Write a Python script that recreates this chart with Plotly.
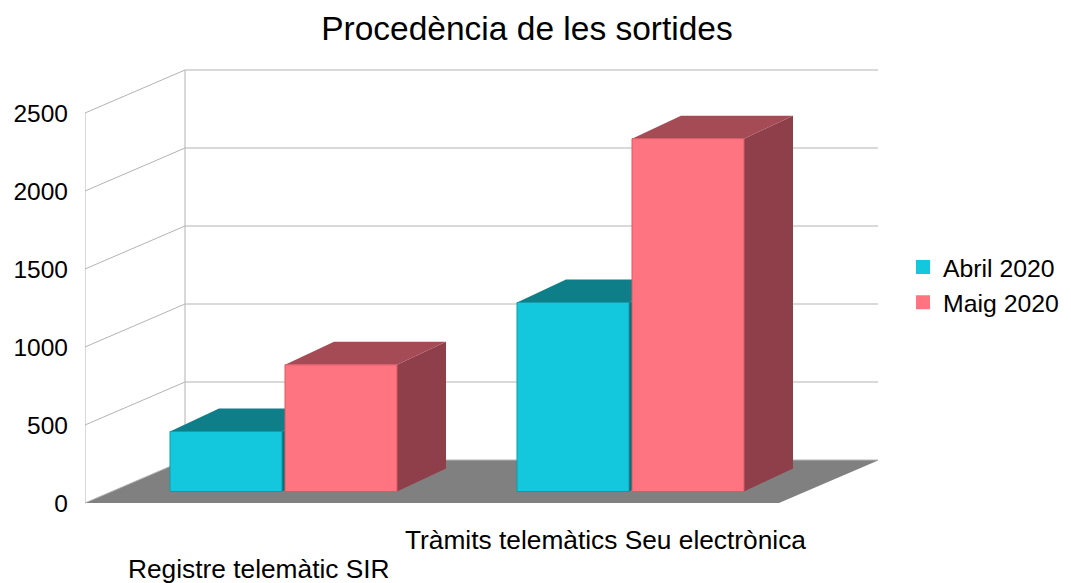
import plotly.graph_objects as go

# ---- data ----
categories = ["Registre telemàtic SIR", "Tràmits telemàtics Seu electrònica"]
series_names = ["Abril 2020", "Maig 2020"]
abril_2020 = [385, 1212]
maig_2020 = [812, 2262]
y_ticks = [0, 500, 1000, 1500, 2000, 2500]

# ---- style / projection constants (page pixel coordinates) ----
FONT = "Liberation Sans, Arial, sans-serif"
OFF = 8                      # browser body margin
PX = 390 / 2500.0            # pixels per value unit on the y axis
PLOT_L, PLOT_R, PLOT_T, PLOT_B = 85, 878, 60, 510
Y0_PIX = 503                 # pixel row of value 0 at the front plane
WALL_DX, WALL_DY = 100, 43   # oblique depth vector of walls (px)
BAR_OFF_DX, BAR_OFF_DY = 25, 11.5   # bar front plane offset (px)
BAR_DX, BAR_DY = 49, 23      # bar depth (px)
BAR_W, BAR_GAP = 112, 3
FRONT_W = 694                # front plane width (px)

front_cols = ["#13c8dc", "#ff7480"]
top_cols = ["#0e7f89", "#a44b56"]
side_cols = ["#0b6c75", "#8e3f49"]
edge_cols = ["#0e9aa8", "#d85a66"]
grid_col = "#b3b3b3"
floor_col = "#808080"

W, H = 1071 - OFF, 583 - OFF
y_lo = -(PLOT_B - Y0_PIX) / PX
y_hi = (Y0_PIX - PLOT_T) / PX


def du(px):  # pixel height -> value units
    return px / PX


fig = go.Figure()


def poly(xs, ys, fill, line_col=None, lw=0):
    fig.add_trace(go.Scatter(
        x=list(xs) + [xs[0]], y=list(ys) + [ys[0]], mode="lines", fill="toself",
        fillcolor=fill, line=dict(color=line_col or fill, width=lw),
        hoverinfo="skip", showlegend=False))


def line(xs, ys, col=grid_col, w=1):
    fig.add_trace(go.Scatter(x=xs, y=ys, mode="lines", line=dict(color=col, width=w),
                             hoverinfo="skip", showlegend=False))


x_front_l = PLOT_L
x_front_r = PLOT_L + FRONT_W
top_v = y_ticks[-1]

# floor
poly([x_front_l, x_front_r, x_front_r + WALL_DX, x_front_l + WALL_DX],
     [0, 0, du(WALL_DY), du(WALL_DY)], floor_col)

# walls: grid lines
for v in y_ticks:
    line([x_front_l, x_front_l + WALL_DX, x_front_r + WALL_DX],
         [v, v + du(WALL_DY), v + du(WALL_DY)])
line([x_front_l, x_front_l], [0, top_v])
line([x_front_l + WALL_DX] * 2, [du(WALL_DY), top_v + du(WALL_DY)])
line([x_front_r + WALL_DX] * 2, [du(WALL_DY), top_v + du(WALL_DY)])

# bars (fake 3D)
series = [abril_2020, maig_2020]
base = du(BAR_OFF_DY)
for ci, cat in enumerate(categories):
    center = PLOT_L + (ci + 0.5) * FRONT_W / len(categories) + BAR_OFF_DX
    for si, vals in enumerate(series):
        v = vals[ci]
        if si == 0:
            x0 = center - BAR_GAP / 2 - BAR_W
        else:
            x0 = center + BAR_GAP / 2
        x1 = x0 + BAR_W
        b, t = base, base + v
        ddy = du(BAR_DY)
        # side
        poly([x1, x1 + BAR_DX, x1 + BAR_DX, x1], [b, b + ddy, t + ddy, t], side_cols[si])
        # top
        poly([x0, x1, x1 + BAR_DX, x0 + BAR_DX], [t, t, t + ddy, t + ddy], top_cols[si])
        # front
        poly([x0, x1, x1, x0], [b, b, t, t], front_cols[si], edge_cols[si], 1)

# legend entries
for si, name in enumerate(series_names):
    fig.add_trace(go.Scatter(x=[None], y=[None], mode="markers", name=name,
                             marker=dict(symbol="square", size=14, color=front_cols[si])))

# category labels (staggered)
label_rows = [569, 540]
for ci, cat in enumerate(categories):
    cx = PLOT_L + (ci + 0.5) * FRONT_W / len(categories)
    fig.add_annotation(x=cx, xref="x", y=(PLOT_B - label_rows[ci]) / (PLOT_B - PLOT_T),
                       yref="paper", text=cat, showarrow=False,
                       font=dict(family=FONT, size=26.3, color="#000000"),
                       xanchor="center", yanchor="middle")

fig.update_layout(
    width=W, height=H,
    margin=dict(l=PLOT_L - OFF, r=W - (PLOT_R - OFF), t=PLOT_T - OFF,
                b=H - (PLOT_B - OFF), autoexpand=False),
    paper_bgcolor="white", plot_bgcolor="white",
    title=dict(text="Procedència de les sortides", x=(527 - OFF) / W, xanchor="center",
               y=1 - (28 - OFF) / H, yanchor="middle",
               font=dict(family=FONT, size=33.5, color="#000000")),
    xaxis=dict(range=[PLOT_L, PLOT_R], visible=False, fixedrange=True),
    yaxis=dict(range=[y_lo, y_hi], tickvals=y_ticks, ticktext=[str(v) for v in y_ticks],
               showgrid=False, zeroline=False, showline=False, ticks="",
               ticklabelstandoff=16,
               tickfont=dict(family=FONT, size=24.5, color="#000000"), fixedrange=True),
    legend=dict(x=(903 - PLOT_L) / (PLOT_R - PLOT_L), xanchor="left",
                y=(PLOT_B - 285) / (PLOT_B - PLOT_T), yanchor="middle",
                font=dict(family=FONT, size=24.8, color="#000000"),
                itemsizing="trace", itemwidth=30, tracegroupgap=0,
                bgcolor="rgba(0,0,0,0)"),
    showlegend=True,
)

fig.write_html("out.html")
